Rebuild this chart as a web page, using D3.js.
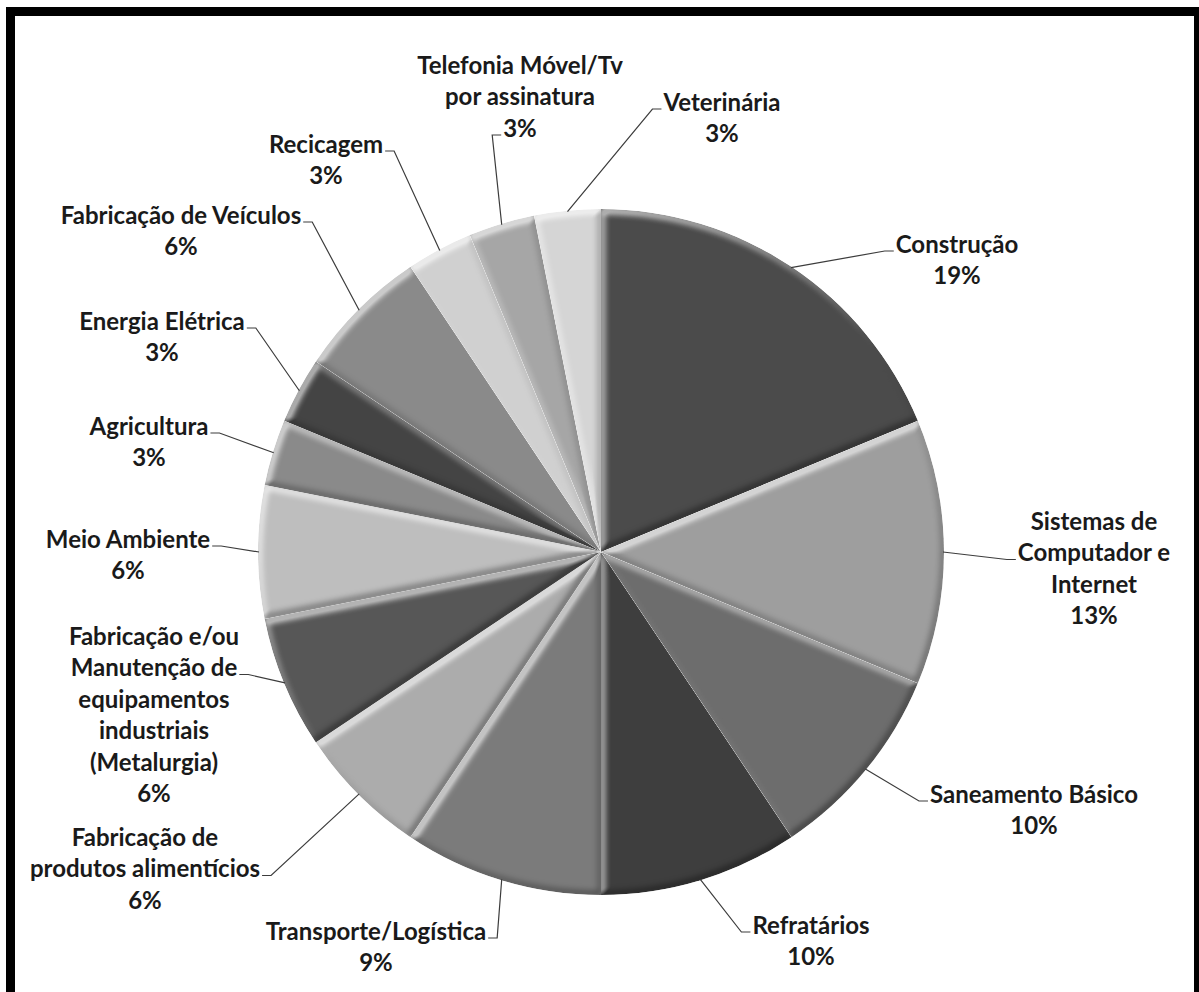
<!DOCTYPE html>
<html>
<head>
<meta charset="utf-8">
<script src="https://cdn.jsdelivr.net/npm/d3@7"></script>
<style>
  html, body { margin: 0; padding: 0; background: #fff; }
  svg { display: block; }
</style>
</head>
<body>
<svg id="chart" width="1199" height="992"></svg>
<script>
// Sectors, clockwise from 12 o'clock
const categories = [
  "Construção",
  "Sistemas de Computador e Internet",
  "Saneamento Básico",
  "Refratários",
  "Transporte/Logística",
  "Fabricação de produtos alimentícios",
  "Fabricação e/ou Manutenção de equipamentos industriais (Metalurgia)",
  "Meio Ambiente",
  "Agricultura",
  "Energia Elétrica",
  "Fabricação de Veículos",
  "Recicagem",
  "Telefonia Móvel/Tv por assinatura",
  "Veterinária"
];

// Number of companies in each sector
const counts = [6, 4, 3, 3, 3, 2, 2, 2, 1, 1, 2, 1, 1, 1];

// Wrapped label text for each sector
const labelLines = [
  ["Construção"],
  ["Sistemas de", "Computador e", "Internet"],
  ["Saneamento Básico"],
  ["Refratários"],
  ["Transporte/Logística"],
  ["Fabricação de", "produtos alimentícios"],
  ["Fabricação e/ou", "Manutenção de", "equipamentos", "industriais", "(Metalurgia)"],
  ["Meio Ambiente"],
  ["Agricultura"],
  ["Energia Elétrica"],
  ["Fabricação de Veículos"],
  ["Recicagem"],
  ["Telefonia Móvel/Tv", "por assinatura"],
  ["Veterinária"]
];

// Grey fill of each sector
const sliceColors = [
  "#4b4b4b", "#9e9e9e", "#6d6d6d", "#3e3e3e", "#7b7b7b", "#acacac", "#575757",
  "#bebebe", "#8a8a8a", "#444444", "#8a8a8a", "#d0d0d0", "#a6a6a6", "#d5d5d5"
];

// Label block placement: centre x, first-line y, side of the leader hook, line it hooks on
const labelLayout = [
  { x: 957,  y: 243, side: "left",  line: 0 },
  { x: 1094, y: 520, side: "left",  line: 1 },
  { x: 1034, y: 793, side: "left",  line: 0 },
  { x: 811,  y: 924, side: "left",  line: 0 },
  { x: 376,  y: 930, side: "right", line: 0 },
  { x: 145,  y: 836, side: "right", line: 1 },
  { x: 154,  y: 635, side: "right", line: 1 },
  { x: 128,  y: 538, side: "right", line: 0 },
  { x: 149,  y: 425, side: "right", line: 0 },
  { x: 162,  y: 320, side: "right", line: 0 },
  { x: 181,  y: 214, side: "right", line: 0 },
  { x: 326,  y: 143, side: "right", line: 0 },
  { x: 520,  y: 64,  side: "left",  line: 2 },
  { x: 722,  y: 101, side: "left",  line: 0 }
];

// Whole-percent labels that add up to 100 (largest remainder)
function percentLabels(values) {
  const total = d3.sum(values);
  const raw = values.map(v => v / total * 100);
  const out = raw.map(Math.floor);
  const left = 100 - d3.sum(out);
  const order = raw.map((v, i) => ({ i, r: v - Math.floor(v) }))
                   .sort((a, b) => b.r - a.r);
  for (let k = 0; k < left; k++) out[order[k].i] += 1;
  return out.map(p => p + "%");
}
const pctText = percentLabels(counts);

const svg = d3.select("#chart");
const W = 1199, H = 992;
const cx = 601, cy = 552, R = 343;
const lineH = 31.5;

svg.append("rect").attr("width", W).attr("height", H).attr("fill", "#fff");

// Soft bevel on every wedge: light rim on the upper-left edges, shade on the lower-right
const defs = svg.append("defs");
const f = defs.append("filter").attr("id", "bevel")
  .attr("x", "-5%").attr("y", "-5%").attr("width", "110%").attr("height", "110%")
  .attr("color-interpolation-filters", "sRGB");
f.append("feGaussianBlur").attr("in", "SourceAlpha").attr("stdDeviation", 3).attr("result", "b");
f.append("feOffset").attr("in", "b").attr("dx", 3).attr("dy", 4).attr("result", "bDown");
f.append("feOffset").attr("in", "b").attr("dx", -2).attr("dy", -3).attr("result", "bUp");
f.append("feComposite").attr("in", "b").attr("in2", "bDown").attr("operator", "arithmetic")
  .attr("k2", 2.2).attr("k3", -2.2).attr("result", "hiMask");
f.append("feComposite").attr("in", "b").attr("in2", "bUp").attr("operator", "arithmetic")
  .attr("k2", 2.2).attr("k3", -2.2).attr("result", "loMask");
f.append("feFlood").attr("flood-color", "#ffffff").attr("flood-opacity", 0.55).attr("result", "white");
f.append("feComposite").attr("in", "white").attr("in2", "hiMask").attr("operator", "in").attr("result", "hi");
f.append("feFlood").attr("flood-color", "#000000").attr("flood-opacity", 0.3).attr("result", "black");
f.append("feComposite").attr("in", "black").attr("in2", "loMask").attr("operator", "in").attr("result", "lo");
const merge = f.append("feMerge").attr("result", "lit");
merge.append("feMergeNode").attr("in", "SourceGraphic");
merge.append("feMergeNode").attr("in", "hi");
merge.append("feMergeNode").attr("in", "lo");
f.append("feComposite").attr("in", "lit").attr("in2", "SourceAlpha").attr("operator", "in");

const pie = d3.pie().sort(null).value(d => d);
const arcs = pie(counts);
const arc = d3.arc().innerRadius(0).outerRadius(R);

const g = svg.append("g").attr("transform", `translate(${cx},${cy})`);
g.selectAll("path.slice")
  .data(arcs)
  .join("path")
  .attr("class", "slice")
  .attr("d", arc)
  .attr("fill", (d, i) => sliceColors[i])
  .attr("filter", "url(#bevel)");

// Labels
const labels = svg.append("g")
  .attr("font-family", "Lato, 'Open Sans', sans-serif")
  .attr("font-weight", 700)
  .attr("font-size", 24)
  .attr("fill", "#1a1a1a")
  .attr("text-anchor", "middle");

const leaders = svg.append("g")
  .attr("fill", "none")
  .attr("stroke", "#3c3c3c")
  .attr("stroke-width", 1.2);

arcs.forEach((d, i) => {
  const lay = labelLayout[i];
  const lines = labelLines[i].concat([pctText[i]]);
  const t = labels.append("text").attr("x", lay.x).attr("y", lay.y);
  const spans = lines.map((s, k) =>
    t.append("tspan").attr("x", lay.x).attr("y", lay.y + k * lineH)
      .attr("dominant-baseline", "central").text(s));

  // hook point beside the chosen line, at its baseline
  const w = spans[lay.line].node().getComputedTextLength();
  const ly = lay.y + lay.line * lineH + 8;
  const ex = lay.side === "left" ? lay.x - w / 2 - 2 : lay.x + w / 2 + 2;
  const hx = lay.side === "left" ? ex - 9 : ex + 9;

  const mid = (d.startAngle + d.endAngle) / 2;
  const px = cx + (R - 1) * Math.sin(mid);
  const py = cy - (R - 1) * Math.cos(mid);

  leaders.append("path")
    .attr("d", d3.line()([[px, py], [hx, ly], [ex, ly]]));
});

// Heavy black frame
svg.append("rect")
  .attr("x", 10.5).attr("y", 11.5)
  .attr("width", 1188).attr("height", 1000)
  .attr("fill", "none")
  .attr("stroke", "#000")
  .attr("stroke-width", 9);
</script>
</body>
</html>
